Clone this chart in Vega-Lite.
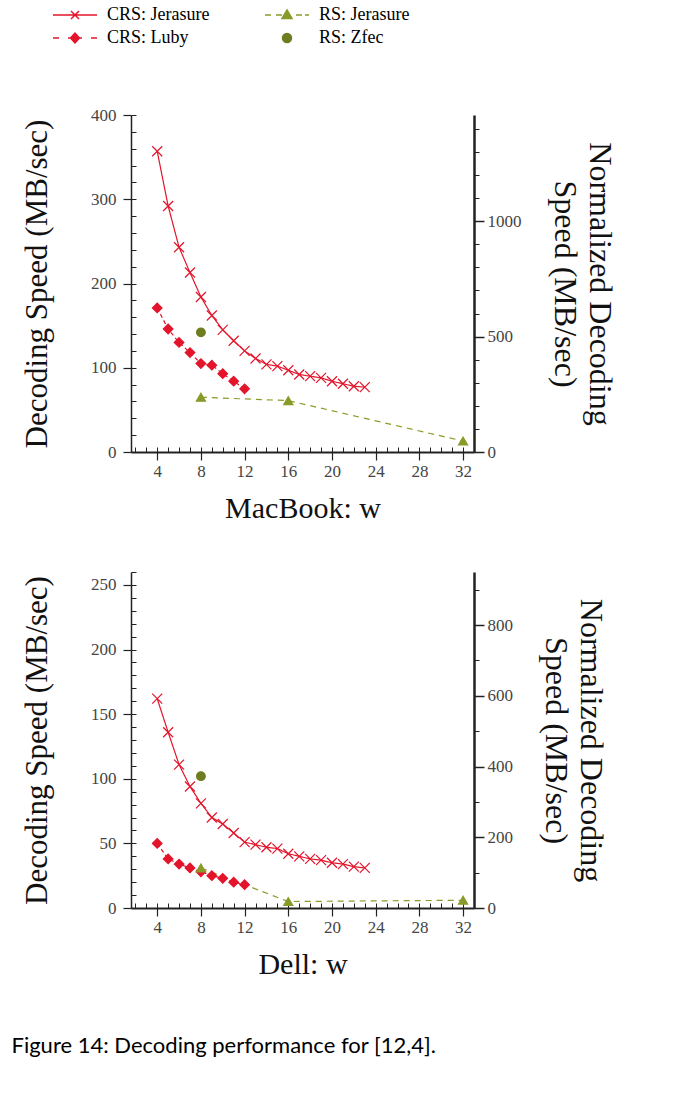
{
  "$schema": "https://vega.github.io/schema/vega-lite/v6.json",
  "background": "white",
  "padding": {"left": 11, "top": 4, "right": 10, "bottom": 10},
  "config": {
    "font": "Liberation Serif",
    "view": {"stroke": null},
    "axis": {
      "grid": false,
      "labelFont": "Liberation Serif",
      "titleFont": "Liberation Serif",
      "titleFontWeight": "normal",
      "domainColor": "#222",
      "tickColor": "#222",
      "labelColor": "#444",
      "titleColor": "#111",
      "labelFontSize": 17,
      "titleFontSize": 30,
      "labelFlush": false,
      "labelOverlap": false,
      "format": "d"
    }
  },
  "title": {
    "text": "Figure 14: Decoding performance for [12,4].",
    "orient": "bottom",
    "anchor": "start",
    "font": "Lato",
    "fontSize": 22,
    "fontWeight": "normal",
    "color": "#000",
    "offset": 57,
    "dx": -10
  },
  "datasets": {
    "mac": [
      {"w": 4, "speed": 357, "series": "CRS: Jerasure"},
      {"w": 5, "speed": 292, "series": "CRS: Jerasure"},
      {"w": 6, "speed": 243, "series": "CRS: Jerasure"},
      {"w": 7, "speed": 213, "series": "CRS: Jerasure"},
      {"w": 8, "speed": 184, "series": "CRS: Jerasure"},
      {"w": 9, "speed": 162, "series": "CRS: Jerasure"},
      {"w": 10, "speed": 145, "series": "CRS: Jerasure"},
      {"w": 11, "speed": 132, "series": "CRS: Jerasure"},
      {"w": 12, "speed": 120, "series": "CRS: Jerasure"},
      {"w": 13, "speed": 111, "series": "CRS: Jerasure"},
      {"w": 14, "speed": 104, "series": "CRS: Jerasure"},
      {"w": 15, "speed": 102, "series": "CRS: Jerasure"},
      {"w": 16, "speed": 97, "series": "CRS: Jerasure"},
      {"w": 17, "speed": 92, "series": "CRS: Jerasure"},
      {"w": 18, "speed": 90, "series": "CRS: Jerasure"},
      {"w": 19, "speed": 88, "series": "CRS: Jerasure"},
      {"w": 20, "speed": 84, "series": "CRS: Jerasure"},
      {"w": 21, "speed": 81, "series": "CRS: Jerasure"},
      {"w": 22, "speed": 78, "series": "CRS: Jerasure"},
      {"w": 23, "speed": 77, "series": "CRS: Jerasure"},
      {"w": 4, "speed": 171, "series": "CRS: Luby"},
      {"w": 5, "speed": 146, "series": "CRS: Luby"},
      {"w": 6, "speed": 130, "series": "CRS: Luby"},
      {"w": 7, "speed": 118, "series": "CRS: Luby"},
      {"w": 8, "speed": 105, "series": "CRS: Luby"},
      {"w": 9, "speed": 103, "series": "CRS: Luby"},
      {"w": 10, "speed": 93, "series": "CRS: Luby"},
      {"w": 11, "speed": 84, "series": "CRS: Luby"},
      {"w": 12, "speed": 75, "series": "CRS: Luby"},
      {"w": 8, "speed": 65, "series": "RS: Jerasure"},
      {"w": 16, "speed": 61, "series": "RS: Jerasure"},
      {"w": 32, "speed": 13, "series": "RS: Jerasure"},
      {"w": 8, "speed": 142, "series": "RS: Zfec"}
    ],
    "dell": [
      {"w": 4, "speed": 162, "series": "CRS: Jerasure"},
      {"w": 5, "speed": 136, "series": "CRS: Jerasure"},
      {"w": 6, "speed": 111, "series": "CRS: Jerasure"},
      {"w": 7, "speed": 94, "series": "CRS: Jerasure"},
      {"w": 8, "speed": 81, "series": "CRS: Jerasure"},
      {"w": 9, "speed": 70, "series": "CRS: Jerasure"},
      {"w": 10, "speed": 65, "series": "CRS: Jerasure"},
      {"w": 11, "speed": 58, "series": "CRS: Jerasure"},
      {"w": 12, "speed": 51, "series": "CRS: Jerasure"},
      {"w": 13, "speed": 49, "series": "CRS: Jerasure"},
      {"w": 14, "speed": 47, "series": "CRS: Jerasure"},
      {"w": 15, "speed": 46, "series": "CRS: Jerasure"},
      {"w": 16, "speed": 42, "series": "CRS: Jerasure"},
      {"w": 17, "speed": 40, "series": "CRS: Jerasure"},
      {"w": 18, "speed": 38, "series": "CRS: Jerasure"},
      {"w": 19, "speed": 37, "series": "CRS: Jerasure"},
      {"w": 20, "speed": 35, "series": "CRS: Jerasure"},
      {"w": 21, "speed": 34, "series": "CRS: Jerasure"},
      {"w": 22, "speed": 32, "series": "CRS: Jerasure"},
      {"w": 23, "speed": 31, "series": "CRS: Jerasure"},
      {"w": 4, "speed": 50, "series": "CRS: Luby"},
      {"w": 5, "speed": 38, "series": "CRS: Luby"},
      {"w": 6, "speed": 34, "series": "CRS: Luby"},
      {"w": 7, "speed": 31, "series": "CRS: Luby"},
      {"w": 8, "speed": 28, "series": "CRS: Luby"},
      {"w": 9, "speed": 25, "series": "CRS: Luby"},
      {"w": 10, "speed": 23, "series": "CRS: Luby"},
      {"w": 11, "speed": 20, "series": "CRS: Luby"},
      {"w": 12, "speed": 18, "series": "CRS: Luby"},
      {"w": 8, "speed": 31, "series": "RS: Jerasure"},
      {"w": 16, "speed": 5, "series": "RS: Jerasure"},
      {"w": 32, "speed": 6, "series": "RS: Jerasure"},
      {"w": 8, "speed": 102, "series": "RS: Zfec"}
    ]
  },
  "spacing": 48,
  "vconcat": [
    {
      "width": 343,
      "height": 337,
      "resolve": {
        "scale": {"y": "independent", "color": "independent", "stroke": "independent", "shape": "independent", "strokeDash": "independent", "size": "independent"},
        "axis": {"x": "independent", "y": "independent"}
      },
      "layer": [
        {
          "data": {"name": "mac"},
          "transform": [{"filter": "false"}],
          "mark": {"type": "point", "opacity": 0},
          "encoding": {
            "x": {"field": "w", "type": "quantitative", "scale": {"domain": [1.6, 33], "nice": false, "zero": false},
              "axis": {"orient": "bottom", "values": [2,3,4,5,6,7,8,9,10,11,12,13,14,15,16,17,18,19,20,21,22,23,24,25,26,27,28,29,30,31,32,33], "labels": false, "tickSize": -5, "domain": false, "title": null}},
            "y": {"field": "speed", "type": "quantitative", "scale": {"domain": [0, 400], "nice": false},
              "axis": {"orient": "left", "values": [0,20,40,60,80,100,120,140,160,180,200,220,240,260,280,300,320,340,360,380,400], "labels": false, "tickSize": -5, "domain": false, "title": null}}
          }
        },
        {
          "data": {"name": "mac"},
          "transform": [{"filter": "false"}],
          "mark": {"type": "point", "opacity": 0},
          "encoding": {
            "y": {"field": "norm", "type": "quantitative", "scale": {"domain": [0, 1460], "nice": false},
              "axis": {"orient": "right", "values": [0,100,200,300,400,500,600,700,800,900,1000,1100,1200,1300,1400], "labels": false, "tickSize": 5, "domain": false, "title": null}}
          }
        },
        {
          "data": {"name": "mac"},
          "transform": [{"filter": "false"}],
          "mark": {"type": "point", "opacity": 0},
          "encoding": {
            "y": {"field": "norm", "type": "quantitative", "scale": {"domain": [0, 1460], "nice": false},
              "axis": {"orient": "right", "values": [0, 500, 1000], "tickSize": 10, "tickWidth": 1.5, "domainWidth": 2.5, "labelPadding": 3,
                "title": ["Normalized Decoding", "Speed (MB/sec)"], "titleFontSize": 32, "titleLineHeight": 35, "titlePadding": 26}}
          }
        },
        {
          "data": {"name": "mac"},
          "transform": [{"filter": "datum.series != 'RS: Zfec'"}],
          "mark": {"type": "line", "strokeWidth": 1.2},
          "encoding": {
            "x": {"field": "w", "type": "quantitative", "scale": {"domain": [1.6, 33], "nice": false, "zero": false},
              "axis": {"orient": "bottom", "values": [4,8,12,16,20,24,28,32], "tickSize": 8, "tickWidth": 1.2, "domainWidth": 2, "labelPadding": 3, "title": "MacBook: w", "titlePadding": 14}},
            "y": {"field": "speed", "type": "quantitative", "scale": {"domain": [0, 400], "nice": false},
              "axis": {"orient": "left", "values": [0,100,200,300,400], "tickSize": 8, "tickWidth": 1.2, "domainWidth": 1.5, "labelPadding": 7, "title": "Decoding Speed (MB/sec)", "titleFontSize": 31, "titlePadding": 37}},
            "color": {"field": "series", "type": "nominal", "scale": {"domain": ["CRS: Jerasure", "CRS: Luby", "RS: Jerasure"], "range": ["#e3142b", "#e3142b", "#8a9a28"]}, "legend": null},
            "strokeDash": {"field": "series", "type": "nominal", "scale": {"domain": ["CRS: Jerasure", "CRS: Luby", "RS: Jerasure"], "range": [[1, 0], [4, 3], [6, 5]]}, "legend": null}
          }
        },
        {
          "data": {"name": "mac"},
          "mark": {"type": "point", "filled": true, "opacity": 1, "strokeWidth": 1.2},
          "encoding": {
            "x": {"field": "w", "type": "quantitative", "scale": {"domain": [1.6, 33], "nice": false, "zero": false}, "axis": null},
            "y": {"field": "speed", "type": "quantitative", "scale": {"domain": [0, 400], "nice": false}, "axis": null},
            "color": {"field": "series", "type": "nominal", "scale": {"domain": ["CRS: Jerasure", "CRS: Luby", "RS: Jerasure", "RS: Zfec"], "range": ["#e3142b", "#e3142b", "#8a9a28", "#6e7d20"]}, "legend": null},
            "stroke": {"field": "series", "type": "nominal", "scale": {"domain": ["CRS: Jerasure", "CRS: Luby", "RS: Jerasure", "RS: Zfec"], "range": ["#e3142b", "#e3142b", "#8a9a28", "#6e7d20"]}, "legend": null},
            "shape": {"field": "series", "type": "nominal", "scale": {"domain": ["CRS: Jerasure", "CRS: Luby", "RS: Jerasure", "RS: Zfec"], "range": ["M-1,-1L1,1M-1,1L1,-1", "diamond", "triangle-up", "circle"]}, "legend": null},
            "size": {"field": "series", "type": "nominal", "scale": {"domain": ["CRS: Jerasure", "CRS: Luby", "RS: Jerasure", "RS: Zfec"], "range": [100, 75, 70, 110]}, "legend": null}
          }
        },
        {
          "data": {"name": "mac"},
          "transform": [{"filter": "false"}],
          "mark": {"type": "point", "filled": true, "opacity": 1, "strokeWidth": 1.5},
          "encoding": {
            "color": {"field": "series", "type": "nominal",
              "scale": {"domain": ["CRS: Jerasure", "CRS: Luby", "RS: Jerasure", "RS: Zfec"], "range": ["#e3142b", "#e3142b", "#8a9a28", "#6e7d20"]},
              "legend": {"orient": "none", "legendX": -67, "legendY": -111, "columns": 2, "title": null, "values": ["CRS: Jerasure", "CRS: Luby", "RS: Jerasure", "RS: Zfec"], "symbolSize": 400, "symbolStrokeWidth": 1.5, "symbolOpacity": 1, "labelFont": "Liberation Serif", "labelFontSize": 18, "labelColor": "#000", "labelOffset": 21, "columnPadding": 52, "rowPadding": 3, "padding": 0}},
            "stroke": {"field": "series", "type": "nominal",
              "scale": {"domain": ["CRS: Jerasure", "CRS: Luby", "RS: Jerasure", "RS: Zfec"], "range": ["#e3142b", "#e3142b", "#8a9a28", "#6e7d20"]},
              "legend": {"orient": "none", "legendX": -67, "legendY": -111, "columns": 2, "title": null, "values": ["CRS: Jerasure", "CRS: Luby", "RS: Jerasure", "RS: Zfec"], "symbolSize": 400, "symbolStrokeWidth": 1.5, "symbolOpacity": 1, "labelFont": "Liberation Serif", "labelFontSize": 18, "labelColor": "#000", "labelOffset": 21, "columnPadding": 52, "rowPadding": 3, "padding": 0}},
            "shape": {"field": "series", "type": "nominal",
              "scale": {"domain": ["CRS: Jerasure", "CRS: Luby", "RS: Jerasure", "RS: Zfec"],
                "range": ["M-2.2,0H2.2M-0.4,-0.4L0.4,0.4M-0.4,0.4L0.4,-0.4",
                          "M-2.2,0H-1.6M-0.7,0H0.7M1.6,0H2.2M-0.45,0L0,-0.5L0.45,0L0,0.5Z",
                          "M-2.2,0H-1.6M-1.1,0H-0.5M-0.3,0H0.3M0.9,0H1.5M1.8,0H2.2M0,-0.5L0.5,0.35L-0.5,0.35Z",
                          "M-0.45,0A0.45,0.45 0 1,0 0.45,0A0.45,0.45 0 1,0 -0.45,0Z"]},
              "legend": {"orient": "none", "legendX": -67, "legendY": -111, "columns": 2, "title": null, "values": ["CRS: Jerasure", "CRS: Luby", "RS: Jerasure", "RS: Zfec"], "symbolSize": 400, "symbolStrokeWidth": 1.5, "symbolOpacity": 1, "labelFont": "Liberation Serif", "labelFontSize": 18, "labelColor": "#000", "labelOffset": 21, "columnPadding": 52, "rowPadding": 3, "padding": 0}}
          }
        }
      ]
    },
    {
      "width": 343,
      "height": 336,
      "resolve": {
        "scale": {"y": "independent", "color": "independent", "stroke": "independent", "shape": "independent", "strokeDash": "independent", "size": "independent"},
        "axis": {"x": "independent", "y": "independent"}
      },
      "layer": [
        {
          "data": {"name": "dell"},
          "transform": [{"filter": "false"}],
          "mark": {"type": "point", "opacity": 0},
          "encoding": {
            "x": {"field": "w", "type": "quantitative", "scale": {"domain": [1.6, 33], "nice": false, "zero": false},
              "axis": {"orient": "bottom", "values": [2,3,4,5,6,7,8,9,10,11,12,13,14,15,16,17,18,19,20,21,22,23,24,25,26,27,28,29,30,31,32,33], "labels": false, "tickSize": -5, "domain": false, "title": null}},
            "y": {"field": "speed", "type": "quantitative", "scale": {"domain": [0, 260], "nice": false},
              "axis": {"orient": "left", "values": [0,10,20,30,40,50,60,70,80,90,100,110,120,130,140,150,160,170,180,190,200,210,220,230,240,250,260], "labels": false, "tickSize": -5, "domain": false, "title": null}}
          }
        },
        {
          "data": {"name": "dell"},
          "transform": [{"filter": "false"}],
          "mark": {"type": "point", "opacity": 0},
          "encoding": {
            "y": {"field": "norm", "type": "quantitative", "scale": {"domain": [0, 950], "nice": false},
              "axis": {"orient": "right", "values": [0,100,200,300,400,500,600,700,800,900], "labels": false, "tickSize": 5, "domain": false, "title": null}}
          }
        },
        {
          "data": {"name": "dell"},
          "transform": [{"filter": "false"}],
          "mark": {"type": "point", "opacity": 0},
          "encoding": {
            "y": {"field": "norm", "type": "quantitative", "scale": {"domain": [0, 950], "nice": false},
              "axis": {"orient": "right", "values": [0, 200, 400, 600, 800], "tickSize": 10, "tickWidth": 1.5, "domainWidth": 2.5, "labelPadding": 3,
                "title": ["Normalized Decoding", "Speed (MB/sec)"], "titleFontSize": 32, "titleLineHeight": 35, "titlePadding": 26}}
          }
        },
        {
          "data": {"name": "dell"},
          "transform": [{"filter": "datum.series != 'RS: Zfec'"}],
          "mark": {"type": "line", "strokeWidth": 1.2},
          "encoding": {
            "x": {"field": "w", "type": "quantitative", "scale": {"domain": [1.6, 33], "nice": false, "zero": false},
              "axis": {"orient": "bottom", "values": [4,8,12,16,20,24,28,32], "tickSize": 8, "tickWidth": 1.2, "domainWidth": 2, "labelPadding": 3, "title": "Dell: w", "titlePadding": 14}},
            "y": {"field": "speed", "type": "quantitative", "scale": {"domain": [0, 260], "nice": false},
              "axis": {"orient": "left", "values": [0,50,100,150,200,250], "tickSize": 8, "tickWidth": 1.2, "domainWidth": 1.5, "labelPadding": 7, "title": "Decoding Speed (MB/sec)", "titleFontSize": 31, "titlePadding": 37}},
            "color": {"field": "series", "type": "nominal", "scale": {"domain": ["CRS: Jerasure", "CRS: Luby", "RS: Jerasure"], "range": ["#e3142b", "#e3142b", "#8a9a28"]}, "legend": null},
            "strokeDash": {"field": "series", "type": "nominal", "scale": {"domain": ["CRS: Jerasure", "CRS: Luby", "RS: Jerasure"], "range": [[1, 0], [4, 3], [6, 5]]}, "legend": null}
          }
        },
        {
          "data": {"name": "dell"},
          "mark": {"type": "point", "filled": true, "opacity": 1, "strokeWidth": 1.2},
          "encoding": {
            "x": {"field": "w", "type": "quantitative", "scale": {"domain": [1.6, 33], "nice": false, "zero": false}, "axis": null},
            "y": {"field": "speed", "type": "quantitative", "scale": {"domain": [0, 260], "nice": false}, "axis": null},
            "color": {"field": "series", "type": "nominal", "scale": {"domain": ["CRS: Jerasure", "CRS: Luby", "RS: Jerasure", "RS: Zfec"], "range": ["#e3142b", "#e3142b", "#8a9a28", "#6e7d20"]}, "legend": null},
            "stroke": {"field": "series", "type": "nominal", "scale": {"domain": ["CRS: Jerasure", "CRS: Luby", "RS: Jerasure", "RS: Zfec"], "range": ["#e3142b", "#e3142b", "#8a9a28", "#6e7d20"]}, "legend": null},
            "shape": {"field": "series", "type": "nominal", "scale": {"domain": ["CRS: Jerasure", "CRS: Luby", "RS: Jerasure", "RS: Zfec"], "range": ["M-1,-1L1,1M-1,1L1,-1", "diamond", "triangle-up", "circle"]}, "legend": null},
            "size": {"field": "series", "type": "nominal", "scale": {"domain": ["CRS: Jerasure", "CRS: Luby", "RS: Jerasure", "RS: Zfec"], "range": [100, 75, 70, 110]}, "legend": null}
          }
        }
      ]
    }
  ]
}
